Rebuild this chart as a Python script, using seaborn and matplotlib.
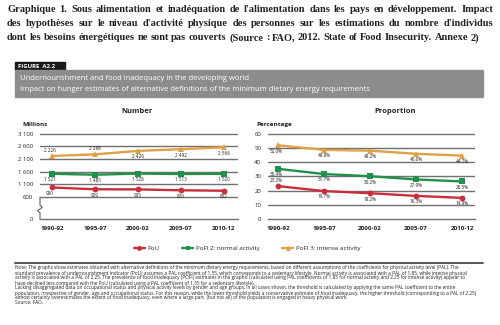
import numpy as np
import pandas as pd
import matplotlib
matplotlib.use("Agg")
import matplotlib.pyplot as plt
from matplotlib.lines import Line2D
import matplotlib.transforms as mtransforms
import seaborn as sns

# ---- data -------------------------------------------------------------
periods = ["1990-92", "1995-97", "2000-02", "2005-07", "2010-12"]
series_names = ["PoU", "PoFI 2: normal activity", "PoFI 3: intense activity"]

number_pou = [980, 909, 905, 870, 852]
number_pofi2 = [1521, 1485, 1528, 1513, 1520]
number_pofi3 = [2226, 2288, 2426, 2492, 2566]

share_pou = [23.2, 19.7, 18.2, 16.3, 14.9]
share_pofi2 = [35.4, 31.7, 30.2, 27.9, 26.5]
share_pofi3 = [52.0, 48.8, 48.2, 46.0, 44.7]

number_ticks = [0, 600, 1100, 1600, 2100, 2600, 3100]
share_ticks = [0, 10, 20, 30, 40, 50, 60]

title_lines = [
    "Graphique 1. Sous alimentation et inadéquation de l'alimentation dans les pays en développement. Impact",
    "des hypothèses sur le niveau d'activité physique des personnes sur les estimations du nombre d'individus",
    "dont les besoins énergétiques ne sont pas couverts (Source : FAO, 2012. State of Food Insecurity. Annexe 2)",
]
note_lines = [
    "Note: The graphs show estimates obtained with alternative definitions of the minimum dietary energy requirements, based on different assumptions of the coefficients for physical activity level (PAL). The",
    "standard prevalence of undernourishment indicator (PoU) assumes a PAL coefficient of 1.55, which corresponds to a sedentary lifestyle. Normal activity is associated with a PAL of 1.85, while intense physical",
    "activity is associated with a PAL of 2.25. The prevalence of food inadequacy (POFI) estimates in the graphic (calculated using PAL coefficients of 1.85 for normal activity and 2.25 for intense activity) appear to",
    "have declined less compared with the PoU (calculated using a PAL coefficient of 1.55 for a sedentary lifestyle).",
    "Lacking disaggregated data on occupational status and physical activity levels by gender and age groups, in all cases shown, the threshold is calculated by applying the same PAL coefficient to the entire",
    "population, irrespective of gender, age and occupational status. For this reason, while the lower threshold yields a conservative estimate of food inadequacy, the higher threshold (corresponding to a PAL of 2.25)",
    "almost certainly overestimates the extent of food inadequacy, even where a large part  (but not all) of the population is engaged in heavy physical work.",
    "Source: FAO.",
]

# label placement per point: +1 above, -1 below
number_label_side = {
    "PoU": [-1, -1, -1, -1, -1],
    "PoFI 2: normal activity": [-1, -1, -1, -1, -1],
    "PoFI 3: intense activity": [1, 1, -1, -1, -1],
}
share_label_side = {
    "PoU": [1, -1, -1, -1, -1],
    "PoFI 2: normal activity": [-1, -1, -1, -1, -1],
    "PoFI 3: intense activity": [-1, -1, -1, -1, -1],
}

# ---- style ------------------------------------------------------------
sns.set_theme(style="white")
plt.rcParams["font.family"] = ["Open Sans", "DejaVu Sans"]

palette = {
    "PoU": "#c92f3b",
    "PoFI 2: normal activity": "#22904a",
    "PoFI 3: intense activity": "#dfa046",
}
markers = {"PoU": "o", "PoFI 2: normal activity": "s", "PoFI 3: intense activity": "^"}
grid_color = "#707070"
W, H = 500, 325

fig = plt.figure(figsize=(5, 3.25), dpi=100)
fig.patch.set_facecolor("white")


def px_box(x0, y0, x1, y1):
    """Axes rectangle from pixel edges (top-left origin)."""
    return [x0 / W, 1 - y1 / H, (x1 - x0) / W, (y1 - y0) / H]


xpos = np.arange(len(periods))


def long_frame(values):
    rows = []
    for name, vals in zip(series_names, values):
        for i, v in enumerate(vals):
            rows.append({"x": xpos[i], "value": v, "series": name})
    return pd.DataFrame(rows)


# broken scale for the "Number" panel: below 600 the axis is stretched
BREAK = 600.0
K = 1.44


def fwd(y):
    y = np.asarray(y, dtype=float)
    return np.where(y >= BREAK, y, BREAK - (BREAK - y) * K)


def inv(t):
    t = np.asarray(t, dtype=float)
    return np.where(t >= BREAK, t, BREAK - (BREAK - t) / K)


def fmt_number(v):
    return f"{v:,}".replace(",", " ")


def fmt_share(v):
    return f"{v:.1f}%"


def draw_panel(ax, values, ticks, ylim, xlim, sides, tick_fmt, label_fmt):
    df = long_frame(values)
    sns.lineplot(
        data=df, x="x", y="value", hue="series", style="series",
        palette=palette, markers=markers, dashes=False, legend=False,
        linewidth=1.7, markersize=4.2, markeredgewidth=0, ax=ax, zorder=3,
    )
    ax.set_xlim(*xlim)
    ax.set_ylim(*ylim)
    ax.set_yticks(ticks)
    ax.set_yticklabels([tick_fmt(t) for t in ticks])
    ax.set_xticks(xpos)
    ax.set_xticklabels(periods)
    ax.set_xlabel("")
    ax.set_ylabel("")
    for t in ticks[1:]:
        ax.axhline(t, color=grid_color, lw=1.0, zorder=1)
    for s in ("top", "right", "left"):
        ax.spines[s].set_visible(False)
    ax.spines["bottom"].set_color(grid_color)
    ax.spines["bottom"].set_linewidth(1.0)
    ax.tick_params(axis="x", length=2.5, width=0.8, color=grid_color, pad=4,
                   labelsize=4.5, direction="inout")
    ax.tick_params(axis="y", length=0, pad=5, labelsize=4.3)
    for lab in ax.get_xticklabels():
        lab.set_fontweight("bold")
        lab.set_color("#222222")
    for lab in ax.get_yticklabels():
        lab.set_color("#222222")
    # value labels
    for name, vals in zip(series_names, values):
        for i, v in enumerate(vals):
            side = sides[name][i]
            dx = -1.5 if i == 0 else 0
            ax.annotate(
                label_fmt(v), (xpos[i], v), xytext=(dx, 2.4 * side),
                textcoords="offset points", ha="center",
                va="bottom" if side > 0 else "top",
                fontsize=3.3, color="#222222", zorder=4,
            )


ax_num = fig.add_axes(px_box(40, 130, 238, 219))
ax_num.set_yscale("function", functions=(fwd, inv))
draw_panel(
    ax_num, [number_pou, number_pofi2, number_pofi3], number_ticks,
    (0, 3250), (-0.28, 4.33), number_label_side, fmt_number, fmt_number,
)
# left axis line with a break mark between 0 and 600
blend = mtransforms.blended_transform_factory(ax_num.transAxes, ax_num.transData)
brk_x = [0, 0, -0.012, 0.012, 0, 0]
brk_y = [0, 170, 230, 320, 380, 600]
ax_num.add_line(Line2D(brk_x, brk_y, transform=blend, color=grid_color, lw=0.9,
                       clip_on=False, zorder=2))

ax_pct = fig.add_axes(px_box(268, 130, 475, 219))
draw_panel(
    ax_pct, [share_pou, share_pofi2, share_pofi3], share_ticks,
    (0, 62.8), (-0.22, 4.28), share_label_side, lambda t: f"{t}", fmt_share,
)

# ---- panel headings ---------------------------------------------------
fig.text(137 / W, 1 - 112 / H, "Number", ha="center", va="center",
         fontsize=5.4, fontweight="bold", color="#222222")
fig.text(395 / W, 1 - 112 / H, "Proportion", ha="center", va="center",
         fontsize=5.4, fontweight="bold", color="#222222")
fig.text(22 / W, 1 - 124 / H, "Millions", ha="left", va="center",
         fontsize=4.6, fontweight="bold", color="#222222")
fig.text(256 / W, 1 - 124 / H, "Percentage", ha="left", va="center",
         fontsize=4.6, fontweight="bold", color="#222222")

# ---- figure banner ----------------------------------------------------
fig.patches.append(plt.Rectangle((15 / W, 1 - 70 / H), 50 / W, 8 / H,
                                 transform=fig.transFigure, color="#1a1a1a", zorder=0))
fig.text(18 / W, 1 - 66 / H, "FIGURE  A2.2", ha="left", va="center",
         fontsize=4.3, color="white", fontweight="bold")
fig.patches.append(plt.Rectangle((15 / W, 1 - 97 / H), 468 / W, 27 / H,
                                 transform=fig.transFigure, color="#8c8c8c", zorder=0))
fig.text(20 / W, 1 - 78.5 / H, "Undernourishment and food inadequacy in the developing world",
         ha="left", va="center", fontsize=5.5, color="white")
fig.text(20 / W, 1 - 89.5 / H,
         "Impact on hunger estimates of alternative definitions of the minimum dietary energy requirements",
         ha="left", va="center", fontsize=5.5, color="white")

# ---- legend -----------------------------------------------------------
handles = [Line2D([], [], color=palette[n], marker=markers[n], lw=1.7, markersize=3.5,
                  markeredgewidth=0) for n in series_names]
fig.legend(handles, series_names, loc="center", bbox_to_anchor=(247 / W, 1 - 248 / H),
           ncol=3, frameon=False, fontsize=4.5, handlelength=1.8, handletextpad=0.4,
           columnspacing=3.6)

# separator
fig.add_artist(Line2D([15 / W, 483 / W], [1 - 263 / H, 1 - 263 / H],
                      transform=fig.transFigure, color="#555555", lw=1.4))

# ---- note -------------------------------------------------------------
for i, line in enumerate(note_lines):
    fig.text(15 / W, 1 - (268 + 5 * i) / H, line, ha="left", va="center",
             fontsize=3.42, color="#222222")

# ---- justified title --------------------------------------------------
renderer = fig.canvas.get_renderer()
tx0, tx1 = 7, 493
for i, line in enumerate(title_lines):
    y = 1 - (10 + 14 * i) / H
    words = line.split(" ")
    arts = [fig.text(0, y, w, ha="left", va="center", fontsize=7.5,
                     fontweight="bold", family=["Liberation Serif", "DejaVu Serif"],
                     color="#222222") for w in words]
    widths = [a.get_window_extent(renderer).width for a in arts]
    space = arts[0].get_fontsize() * 100 / 72 * 0.25
    if i < len(title_lines) - 1:
        gap = (tx1 - tx0 - sum(widths)) / (len(words) - 1)
    else:
        gap = space
    x = tx0
    for a, wdt in zip(arts, widths):
        a.set_x(x / W)
        x += wdt + gap

fig.savefig("out.png", dpi=100, facecolor="white")
